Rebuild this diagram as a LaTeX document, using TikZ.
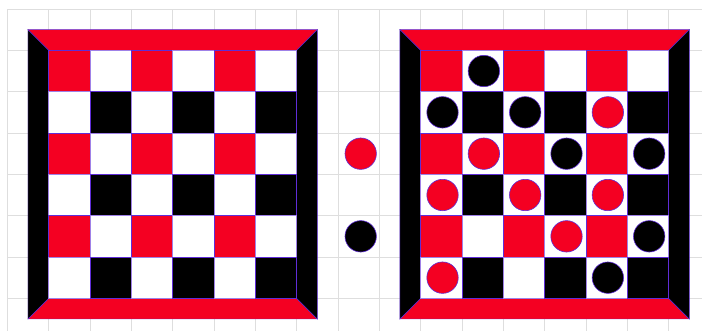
\documentclass[tikz,border=0pt]{standalone}
\definecolor{bred}{RGB}{244,0,34}
\definecolor{edgec}{RGB}{95,45,215}
\definecolor{gridc}{RGB}{222,222,222}
\tikzset{
  gridline/.style={draw=gridc, line width=0.6pt},
  redpart/.style={fill=bred, draw=edgec, line width=0.3pt},
  blackpart/.style={fill=black, draw=edgec, line width=0.3pt},
  whitepart/.style={fill=white, draw=edgec!60, line width=0.3pt},
  redpiece/.style={fill=bred, draw=edgec, line width=0.4pt},
  blackpiece/.style={fill=black, draw=edgec, line width=0.4pt},
}
\begin{document}
\begin{tikzpicture}[x=1cm,y=-1cm]
\useasboundingbox (-0.177,-0.218) rectangle (16.808,7.79);
% background grid
\foreach \i in {0,...,16} \draw[gridline] (\i,0) -- (\i,7.9);
\foreach \j in {0,...,7} \draw[gridline] (0,\j) -- (16.9,\j);
% boards
\foreach \ox in {0,9} {
  \begin{scope}[shift={(\ox,0)}]
    \path[redpart] (0.5,0.5) -- (7.5,0.5) -- (7,1) -- (1,1) -- cycle;
    \path[redpart] (0.5,7.5) -- (7.5,7.5) -- (7,7) -- (1,7) -- cycle;
    \path[blackpart] (0.5,0.5) -- (1,1) -- (1,7) -- (0.5,7.5) -- cycle;
    \path[blackpart] (7.5,0.5) -- (7,1) -- (7,7) -- (7.5,7.5) -- cycle;
    \foreach \r in {0,...,5} {
      \foreach \c in {0,...,5} {
        \pgfmathtruncatemacro{\s}{mod(\r+\c,2)}
        \pgfmathtruncatemacro{\e}{mod(\r,2)}
        \ifnum\s=1
          \path[whitepart] (1+\c,1+\r) rectangle (2+\c,2+\r);
        \else
          \ifnum\e=0
            \path[redpart] (1+\c,1+\r) rectangle (2+\c,2+\r);
          \else
            \path[blackpart] (1+\c,1+\r) rectangle (2+\c,2+\r);
          \fi
        \fi
      }
    }
  \end{scope}
}
% pieces on the right board
\foreach \r/\c in {0/1,1/0,1/2,2/3,2/5,4/5,5/4}
  \path[blackpiece] (10.53+\c,1.5+\r) circle (0.38);
\foreach \r/\c in {1/4,2/1,3/0,3/2,3/4,4/3,5/0}
  \path[redpiece] (10.53+\c,1.5+\r) circle (0.38);
% spare pieces
\path[redpiece] (8.55,3.5) circle (0.38);
\path[blackpiece] (8.55,5.5) circle (0.38);
\end{tikzpicture}
\end{document}
